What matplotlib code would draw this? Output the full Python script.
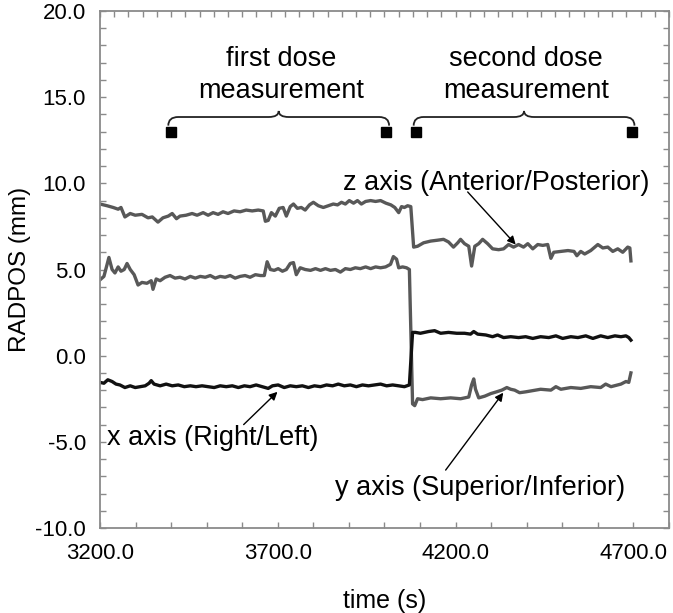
import matplotlib
matplotlib.use('Agg')
import matplotlib.pyplot as plt
from matplotlib.path import Path
from matplotlib.patches import PathPatch
from matplotlib.ticker import MultipleLocator, FixedLocator, FormatStrFormatter

plt.rcParams['font.family'] = ['Liberation Sans', 'DejaVu Sans']

# ---------------- data ----------------
z_time = [3200, 3220, 3237, 3251, 3259, 3270, 3285, 3299, 3318, 3335, 3347, 3363, 3377, 3392,
          3403, 3415, 3425, 3442, 3459, 3473, 3490, 3504, 3518, 3532, 3546, 3560, 3577, 3594,
          3611, 3628, 3645, 3659, 3665, 3673, 3682, 3693, 3704, 3715, 3724, 3735, 3744, 3755,
          3766, 3777, 3789, 3800, 3814, 3828, 3842, 3856, 3868, 3879, 3890, 3901, 3913, 3924,
          3935, 3947, 3961, 3975, 3989, 4004, 4018, 4029, 4040, 4048, 4056, 4065, 4074, 4082,
          4093, 4110, 4130, 4149, 4166, 4180, 4194, 4206, 4214, 4225, 4237, 4245, 4254, 4265,
          4276, 4290, 4304, 4321, 4335, 4349, 4363, 4377, 4391, 4403, 4417, 4431, 4445, 4459,
          4468, 4476, 4496, 4516, 4533, 4541, 4552, 4563, 4580, 4600, 4614, 4628, 4642, 4656,
          4670, 4684, 4690, 4693]
z_pos = [8.8, 8.7, 8.6, 8.5, 8.6, 8.05, 8.25, 8.15, 8.2, 8.0, 8.05, 7.75, 8.0, 8.1,
         8.25, 7.95, 8.1, 8.15, 8.25, 8.15, 8.3, 8.15, 8.3, 8.2, 8.35, 8.25, 8.4, 8.35,
         8.45, 8.4, 8.45, 8.4, 7.8, 7.85, 8.3, 8.1, 8.55, 8.6, 8.1, 8.65, 8.8, 8.55,
         8.6, 8.45, 8.75, 8.9, 8.7, 8.6, 8.7, 8.8, 8.75, 8.9, 8.8, 9.0, 8.85, 9.0,
         8.8, 8.95, 9.0, 8.95, 9.0, 8.85, 8.75, 8.6, 8.3, 8.65, 8.6, 8.7, 8.65, 6.3,
         6.35, 6.55, 6.65, 6.7, 6.75, 6.6, 6.3, 6.55, 6.75, 6.5, 6.35, 5.2, 6.35, 6.5,
         6.75, 6.5, 6.2, 6.15, 6.2, 6.45, 6.3, 6.45, 6.3, 6.5, 6.2, 6.45, 6.4, 6.45,
         5.65, 6.0, 6.05, 6.1, 6.05, 5.8, 6.05, 5.9, 6.1, 6.45, 6.25, 6.3, 6.05, 6.2,
         6.0, 6.3, 6.25, 5.5]

y_time = [3200, 3211, 3220, 3225, 3234, 3242, 3251, 3259, 3268, 3276, 3285, 3296, 3307, 3318,
          3332, 3344, 3349, 3358, 3369, 3383, 3397, 3411, 3425, 3439, 3454, 3468, 3482, 3496,
          3510, 3524, 3538, 3552, 3566, 3580, 3594, 3608, 3622, 3637, 3651, 3662, 3670, 3679,
          3690, 3701, 3713, 3724, 3735, 3744, 3752, 3763, 3777, 3792, 3806, 3820, 3834, 3848,
          3862, 3876, 3890, 3904, 3918, 3932, 3947, 3961, 3975, 3989, 4003, 4017, 4025, 4034,
          4040, 4051, 4062, 4070, 4079, 4085, 4093, 4107, 4130, 4158, 4186, 4214, 4237, 4245,
          4251, 4256, 4265, 4282, 4299, 4315, 4330, 4344, 4355, 4366, 4380, 4397, 4411, 4439,
          4468, 4482, 4496, 4524, 4552, 4580, 4608, 4622, 4637, 4665, 4679, 4687, 4693]
y_pos = [4.4, 4.6, 5.3, 5.7, 5.0, 4.8, 5.15, 4.9, 5.0, 5.35, 5.0, 4.7, 4.1, 4.25,
         4.2, 4.35, 3.85, 4.45, 4.35, 4.55, 4.65, 4.5, 4.55, 4.45, 4.6, 4.5, 4.6, 4.55,
         4.65, 4.5, 4.6, 4.55, 4.65, 4.5, 4.6, 4.65, 4.55, 4.7, 4.65, 4.65, 5.45, 5.0,
         4.95, 5.05, 4.9, 5.0, 5.35, 5.4, 4.7, 5.1, 5.0, 4.95, 5.05, 4.95, 5.05, 4.95,
         5.0, 4.85, 5.05, 5.0, 5.1, 5.05, 5.15, 5.05, 5.15, 5.1, 5.15, 5.3, 5.75, 5.6,
         5.1, 5.15, 5.1, 5.0, -2.8, -2.9, -2.5, -2.55, -2.45, -2.5, -2.45, -2.5, -2.4, -1.7,
         -1.35, -1.95, -2.45, -2.35, -2.2, -2.1, -2.0, -1.85, -1.95, -2.0, -2.15, -2.1, -2.05, -1.95,
         -2.0, -1.8, -1.95, -1.85, -1.9, -1.8, -1.85, -1.65, -1.8, -1.65, -1.5, -1.55, -1.0]

x_time = [3200, 3211, 3222, 3234, 3245, 3256, 3270, 3285, 3299, 3313, 3327, 3338, 3344, 3352,
          3369, 3386, 3403, 3420, 3437, 3454, 3470, 3487, 3504, 3521, 3538, 3555, 3572, 3589,
          3606, 3622, 3639, 3656, 3673, 3685, 3701, 3718, 3735, 3752, 3769, 3786, 3803, 3820,
          3837, 3854, 3870, 3887, 3904, 3921, 3938, 3955, 3972, 3989, 4006, 4023, 4040, 4056,
          4070, 4079, 4087, 4101, 4124, 4141, 4158, 4180, 4203, 4225, 4242, 4251, 4262, 4285,
          4304, 4318, 4335, 4355, 4377, 4397, 4417, 4439, 4462, 4482, 4501, 4524, 4544, 4566,
          4586, 4608, 4628, 4648, 4665, 4679, 4687, 4693]
x_pos = [-1.55, -1.6, -1.4, -1.5, -1.65, -1.7, -1.85, -1.75, -1.85, -1.8, -1.75, -1.6, -1.45, -1.65,
         -1.75, -1.65, -1.75, -1.7, -1.8, -1.75, -1.8, -1.75, -1.8, -1.85, -1.75, -1.8, -1.75, -1.85,
         -1.75, -1.8, -1.7, -1.8, -1.9, -1.75, -1.7, -1.85, -1.75, -1.8, -1.75, -1.85, -1.75, -1.8,
         -1.7, -1.75, -1.65, -1.75, -1.7, -1.8, -1.7, -1.75, -1.7, -1.65, -1.75, -1.7, -1.75, -1.8,
         -1.7, 1.35, 1.35, 1.3, 1.4, 1.45, 1.3, 1.35, 1.3, 1.3, 1.25, 1.4, 1.25, 1.2,
         1.1, 1.2, 1.05, 1.1, 1.05, 1.1, 1.0, 1.1, 1.05, 1.15, 1.0, 1.1, 1.05, 1.15,
         1.0, 1.15, 1.05, 1.15, 1.1, 1.15, 1.05, 0.9]

marker_time = [3400, 4005, 4090, 4695]
marker_pos = [13.0, 13.0, 13.0, 13.0]

x_ticks = [3200, 3700, 4200, 4700]
y_ticks = [-10, -5, 0, 5, 10, 15, 20]

# ---------------- figure ----------------
GRAY = '#8a8a8a'
fig = plt.figure(figsize=(6.73, 6.13), dpi=100)
ax = fig.add_axes([0.1486, 0.1387, 0.8454, 0.8433])

ax.plot(z_time, z_pos, color='#585858', lw=2.4, solid_joinstyle='round')
ax.plot(y_time, y_pos, color='#585858', lw=2.4, solid_joinstyle='round')
ax.plot(x_time, x_pos, color='#111111', lw=2.4, solid_joinstyle='round')
ax.plot(marker_time, marker_pos, linestyle='none', marker='s', color='black', markersize=7)

ax.set_xlim(3200, 4800)
ax.set_ylim(-10, 20)
ax.xaxis.set_major_locator(FixedLocator(x_ticks))
ax.xaxis.set_minor_locator(MultipleLocator(100))
ax.yaxis.set_major_locator(FixedLocator(y_ticks))
ax.yaxis.set_minor_locator(MultipleLocator(1))
ax.xaxis.set_major_formatter(FormatStrFormatter('%.1f'))
ax.yaxis.set_major_formatter(FormatStrFormatter('%.1f'))
ax.tick_params(which='both', direction='in', length=4, width=1, color=GRAY,
               left=True, right=True, bottom=True, top=False, labelsize=16)
ax.tick_params(axis='x', which='major', pad=11)
ax.tick_params(axis='y', which='major', pad=10)
for s in ax.spines.values():
    s.set_color(GRAY)
    s.set_linewidth(1.3)

ax2 = ax.twiny()
ax2.set_xlim(0, 40)
ax2.xaxis.set_major_locator(MultipleLocator(1))
ax2.tick_params(axis='x', which='both', direction='in', length=4, width=1, color=GRAY,
                labeltop=False, top=True)
for s in ax2.spines.values():
    s.set_visible(False)

ax.set_xlabel('time (s)', fontsize=18, labelpad=18)
ax.set_ylabel('RADPOS (mm)', fontsize=17.5, labelpad=3)


def brace(x0, x1, yb, yl, yp, dx):
    xm = (x0 + x1) / 2
    verts = [(x0, yb), (x0, yl), (x0 + dx, yl),
             (xm - dx, yl), (xm, yl), (xm, yp),
             (xm, yl), (xm + dx, yl),
             (x1 - dx, yl), (x1, yl), (x1, yb)]
    codes = [Path.MOVETO, Path.CURVE3, Path.CURVE3,
             Path.LINETO, Path.CURVE3, Path.CURVE3,
             Path.CURVE3, Path.CURVE3,
             Path.LINETO, Path.CURVE3, Path.CURVE3]
    ax.add_patch(PathPatch(Path(verts, codes), fill=False, lw=1.3, color='#222222'))


brace(marker_time[0] - 8, marker_time[1] + 8, 13.35, 13.85, 14.2, 28)
brace(marker_time[2] - 8, marker_time[3] + 8, 13.35, 13.85, 14.2, 28)

ax.text(3710, 16.3, 'first dose\nmeasurement', ha='center', va='center', fontsize=19.5,
        linespacing=1.3)
ax.text(4397, 16.3, 'second dose\nmeasurement', ha='center', va='center', fontsize=19.5,
        linespacing=1.3)

ax.text(4313, 10.0, 'z axis (Anterior/Posterior)', ha='center', va='center', fontsize=19.5)
ax.text(3518, -4.75, 'x axis (Right/Left)', ha='center', va='center', fontsize=19.5)
ax.text(4270, -7.7, 'y axis (Superior/Inferior)', ha='center', va='center', fontsize=19.5)

aprops = dict(arrowstyle='-|>', color='black', lw=1.0, mutation_scale=12, shrinkA=0, shrinkB=0)
ax.annotate('', xy=(4369, 6.45), xytext=(4234, 9.5), arrowprops=aprops)
ax.annotate('', xy=(3699, -2.1), xytext=(3604, -4.0), arrowprops=aprops)
ax.annotate('', xy=(4334, -2.15), xytext=(4172, -6.64), arrowprops=aprops)

fig.savefig('out.png', dpi=100)
